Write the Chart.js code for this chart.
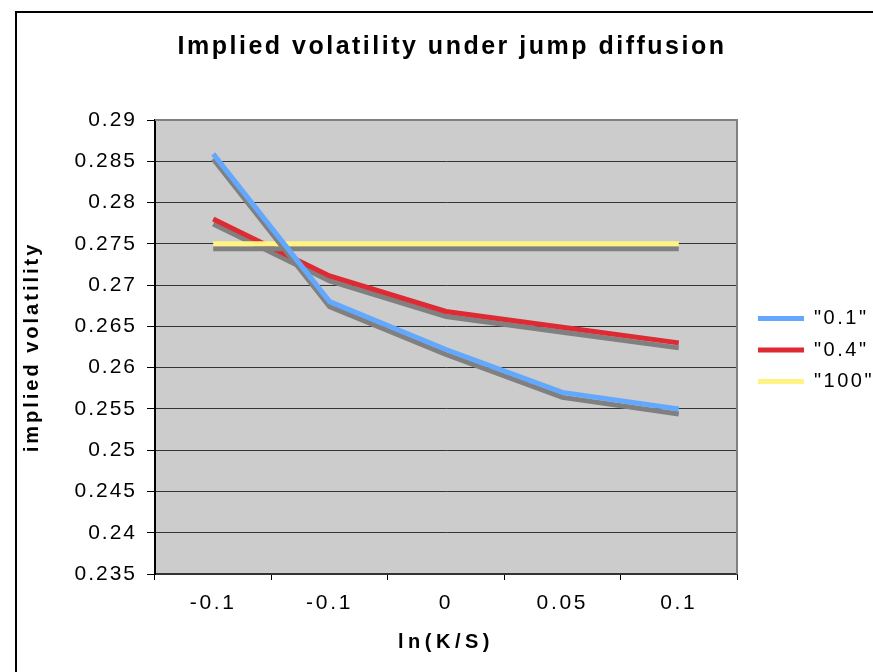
<!DOCTYPE html>
<html>
<head>
<meta charset="utf-8">
<script src="https://cdn.jsdelivr.net/npm/chart.js@4/dist/chart.umd.min.js"></script>
<style>
  html, body { margin: 0; padding: 0; background: #ffffff; }
  #wrap { position: relative; width: 873px; height: 672px; overflow: hidden; }
  #frame { position: absolute; left: 15px; top: 11px; width: 900px; height: 700px;
           border-left: 2px solid #000; border-top: 2px solid #000; pointer-events: none; }
  canvas { position: absolute; left: 0; top: 0; }
</style>
</head>
<body>
<div id="wrap">
  <canvas id="c" width="873" height="672"></canvas>
  <div id="frame"></div>
</div>
<script>
// ---- data ----
const categories = ["-0.1", "-0.1", "0", "0.05", "0.1"];
const seriesNames = ['"0.1"', '"0.4"', '"100"'];
const series01 = [0.2859, 0.2680, 0.2622, 0.2570, 0.2550];
const series04 = [0.2780, 0.2711, 0.2668, 0.2649, 0.2630];
const series100 = [0.2750, 0.2750, 0.2750, 0.2750, 0.2750];
const yMin = 0.235, yMax = 0.29, yStep = 0.005;

const colors = ['#63A8FF', '#DD2A33', '#FFF383'];
const drawOrder = [0, 2, 1];

const FONT = "'Liberation Sans', Arial, sans-serif";

function withSpacing(obj, method, sp) {
  if (!obj || obj['__sp_' + method]) return;
  const orig = obj[method];
  obj[method] = function (...args) {
    const ctx = this.ctx || this.chart.ctx;
    const prev = ctx.letterSpacing;
    ctx.letterSpacing = sp;
    const r = orig.apply(this, args);
    ctx.letterSpacing = prev;
    return r;
  };
  obj['__sp_' + method] = true;
}

const plotBg = {
  id: 'plotBg',
  afterLayout(chart) {
    const lg = chart.legend;
    if (lg) { lg.left += 9.5; lg.right += 9.5; lg.top += 14; lg.bottom += 14; }
    const tb = chart.titleBlock;
    if (tb) { tb.left += 15.5; tb.right += 15.5; }
  },
  beforeDraw(chart) {
    withSpacing(chart.titleBlock, 'draw', '2.5px');
    withSpacing(chart.legend, 'draw', '2.5px');
    withSpacing(chart.scales.x, 'drawLabels', '2.7px');
    withSpacing(chart.scales.y, 'drawLabels', '2px');
    withSpacing(chart.scales.x, 'drawTitle', '4.5px');
    withSpacing(chart.scales.y, 'drawTitle', '3px');
    const {ctx, chartArea: a} = chart;
    ctx.save();
    ctx.fillStyle = '#CCCCCC';
    ctx.fillRect(a.left, a.top, a.right - a.left, a.bottom - a.top);
    ctx.restore();
  },
  beforeDatasetsDraw(chart) {
    const {ctx, chartArea: a} = chart;
    ctx.save();
    ctx.strokeStyle = '#808080';
    ctx.lineWidth = 2;
    ctx.beginPath();
    ctx.moveTo(a.left, a.top);
    ctx.lineTo(a.right, a.top);
    ctx.lineTo(a.right, a.bottom);
    ctx.stroke();
    ctx.restore();
  },
  beforeDatasetDraw(chart) {
    const ctx = chart.ctx;
    ctx.save();
    ctx.shadowColor = '#808080';
    ctx.shadowOffsetX = 0;
    ctx.shadowOffsetY = 5;
    ctx.shadowBlur = 0;
  },
  afterDatasetDraw(chart) { chart.ctx.restore(); }
};

const legendWidthFix = {
  id: 'legendWidthFix',
  afterInit(chart) {
    const lg = chart.legend;
    const orig = lg.fit;
    lg.fit = function () { orig.call(this); this.width = 136; };
  }
};

new Chart(document.getElementById('c'), {
  type: 'line',
  data: {
    labels: categories,
    datasets: [
      { label: seriesNames[0], data: series01, borderColor: colors[0], backgroundColor: colors[0], order: drawOrder[0] },
      { label: seriesNames[1], data: series04, borderColor: colors[1], backgroundColor: colors[1], order: drawOrder[1] },
      { label: seriesNames[2], data: series100, borderColor: colors[2], backgroundColor: colors[2], order: drawOrder[2] }
    ].map(d => Object.assign(d, { borderWidth: 5, pointRadius: 0, tension: 0, fill: false,
                                  borderCapStyle: 'butt', borderJoinStyle: 'miter' }))
  },
  options: {
    responsive: false,
    animation: false,
    devicePixelRatio: 1,
    layout: { padding: { left: 0, right: 0, top: 0, bottom: 0 } },
    plugins: {
      title: {
        display: true,
        text: 'Implied volatility under jump diffusion',
        color: '#000',
        font: { family: FONT, size: 25, weight: 'bold' },
        padding: { top: 32, bottom: 58 }
      },
      legend: {
        position: 'right',
        labels: {
          color: '#000',
          font: { family: FONT, size: 20 },
          boxWidth: 46,
          boxHeight: 5,
          padding: 11.5,
          generateLabels(chart) {
            return chart.data.datasets.map((d, i) => ({
              text: d.label, fillStyle: d.borderColor, strokeStyle: d.borderColor,
              lineWidth: 0, hidden: false, datasetIndex: i, fontColor: '#000'
            }));
          }
        }
      },
      tooltip: { enabled: false }
    },
    scales: {
      x: {
        offset: true,
        grid: { display: true, drawOnChartArea: false, drawTicks: true, tickLength: 6,
                color: '#000', offset: true, lineWidth: 1 },
        border: { display: true, color: '#333', width: 2 },
        ticks: { color: '#000', font: { family: FONT, size: 21 }, padding: 11, maxRotation: 0, autoSkip: false },
        title: { display: true, text: 'ln(K/S)', color: '#000',
                 font: { family: FONT, size: 20, weight: 'bold' }, padding: { top: 0, bottom: 18 } },
        afterFit(s) { s.height = 98; }
      },
      y: {
        min: yMin, max: yMax,
        grid: { color: '#333', lineWidth: 1, tickLength: 8, tickColor: '#000' },
        border: { display: true, color: '#000', width: 2 },
        ticks: { stepSize: yStep, color: '#000', font: { family: FONT, size: 21 }, padding: 10,
                 callback: v => String(+v.toFixed(3)) },
        title: { display: true, text: 'implied volatility', color: '#000',
                 font: { family: FONT, size: 20, weight: 'bold' }, padding: { top: 20, bottom: 0 } },
        afterFit(s) { s.width = 155; }
      }
    }
  },
  plugins: [plotBg, legendWidthFix]
});
</script>
</body>
</html>
